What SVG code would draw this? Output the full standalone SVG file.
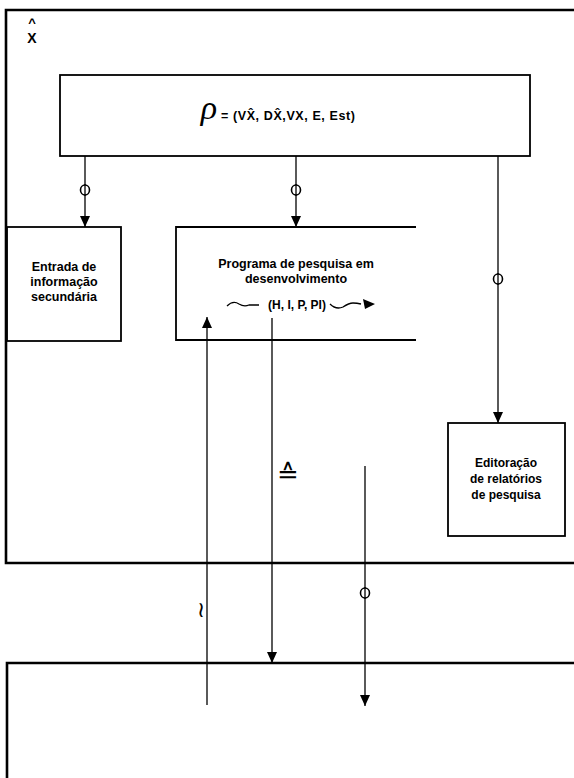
<svg xmlns="http://www.w3.org/2000/svg" width="574" height="778" viewBox="0 0 574 778">
<style>
.frame{fill:none;stroke:#000;stroke-width:2.6}
.box{fill:none;stroke:#000;stroke-width:1.8}
.con{fill:none;stroke:#000;stroke-width:1.3}
.ring{fill:#fff;stroke:#000;stroke-width:1.6}
.t{font-family:"Liberation Sans",Arial,sans-serif;font-weight:bold;font-size:12.5px;fill:#000;text-anchor:middle}
.sym{font-family:"DejaVu Sans",sans-serif;fill:#000;text-anchor:middle}
</style>
<defs>
<marker id="ah" markerUnits="userSpaceOnUse" markerWidth="12" markerHeight="12" viewBox="0 0 12 12" refX="11" refY="6" orient="auto">
<path d="M0,1 L11,6 L0,11 Z" fill="#000"/>
</marker>
</defs>
<rect width="574" height="778" fill="#fff"/>

<g id="outer-frame">
<path class="frame" d="M574,10 H6 V563 H574"/>
<text class="t" x="32" y="27" style="font-size:13px">^</text>
<text class="t" x="32" y="43" style="font-size:14px">X</text>
</g>

<g id="lower-frame">
<path class="frame" d="M574,663 H7 V778"/>
</g>

<g id="rho-box">
<rect class="box" x="60" y="75" width="470" height="81"/>
<text x="209" y="119" style="font-family:'Liberation Serif',serif;font-style:italic;font-size:34px;text-anchor:middle">ρ</text>
<text class="t" x="221" y="120" style="text-anchor:start;font-size:12.5px;letter-spacing:0.6px">= (VX̂, DX̂,VX, E, Est)</text>
</g>

<g id="entrada">
<rect class="box" x="7" y="227" width="114" height="114"/>
<text class="t" x="64" y="271">Entrada de</text>
<text class="t" x="64" y="286">informação</text>
<text class="t" x="64" y="301">secundária</text>
</g>

<g id="programa">
<path class="box" d="M416,227 H176 V340 H416"/>
<text class="t" x="296" y="268">Programa de pesquisa em</text>
<text class="t" x="296" y="283">desenvolvimento</text>
<text class="t" x="297" y="309" style="font-size:12px">(H, I, P, PI)</text>
<path class="con" d="M227,306 q6,-6 12,-2 q5,3 10,1 h10"/>
<path class="con" d="M330,304 q6,6 13,3 q6,-4 10,-4 q4,0 8,1"/>
<path d="M375,304 L363,299 L365,309 Z" fill="#000"/>
</g>

<g id="editoracao">
<rect class="box" x="448" y="423" width="117" height="113"/>
<text class="t" x="506" y="467" style="font-size:12px">Editoração</text>
<text class="t" x="506" y="483" style="font-size:12px">de relatórios</text>
<text class="t" x="506" y="499" style="font-size:12px">de pesquisa</text>
</g>

<g id="connectors">
<line class="con" x1="85" y1="156" x2="85" y2="227" marker-end="url(#ah)"/>
<ellipse class="ring" cx="85" cy="190" rx="4.5" ry="5"/>
<line class="con" x1="85" y1="184" x2="85" y2="196"/>
<line class="con" x1="296" y1="156" x2="296" y2="227" marker-end="url(#ah)"/>
<ellipse class="ring" cx="296" cy="190" rx="4.5" ry="5"/>
<line class="con" x1="296" y1="184" x2="296" y2="196"/>
<line class="con" x1="498" y1="156" x2="498" y2="423" marker-end="url(#ah)"/>
<ellipse class="ring" cx="498" cy="279" rx="4.5" ry="5"/>
<line class="con" x1="498" y1="273" x2="498" y2="285"/>
<line class="con" x1="207" y1="705" x2="207" y2="317" marker-end="url(#ah)"/>
<line class="con" x1="272" y1="318" x2="272" y2="663" marker-end="url(#ah)"/>
<line class="con" x1="365" y1="466" x2="365" y2="706" marker-end="url(#ah)"/>
<ellipse class="ring" cx="365" cy="593" rx="4.5" ry="5"/>
<line class="con" x1="365" y1="587" x2="365" y2="599"/>
<text class="sym" x="288" y="483" style="font-size:26px">≙</text>
<text class="sym" x="201" y="617" style="font-size:22px">≀</text>
</g>
</svg>
